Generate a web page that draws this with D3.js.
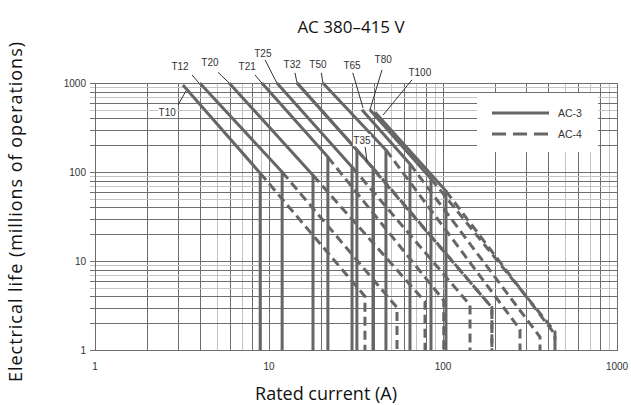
<!DOCTYPE html>
<meta charset="utf-8">
<style>
body { margin: 0; background: #fff; }
text { font-family: "Liberation Sans", Arial, sans-serif; fill: #333; }
.big { font-family: "Open Sans", "Noto Sans", sans-serif; fill: #111; font-size: 17px; }
.grid line { shape-rendering: crispEdges; }
</style>
<svg width="631" height="405"></svg>
<script src="https://d3js.org/d3.v7.min.js"></script>
<script>

var svg = d3.select("svg");

// contactor sizes, one curve each
var sizes = ["T10", "T12", "T20", "T21", "T25", "T32", "T35", "T50", "T65", "T80", "T100"];

// AC-3 (solid): start point [current A, life] and the knee where it drops straight down
var ac3Start = [[3.2, 950], [4.0, 1000], [5.9, 1000], [9.1, 1000], [11.1, 1000], [14.5, 1000],
                [14.5, 1000], [20.4, 1000], [34.2, 500], [38.0, 500], [40.7, 470]];
var ac3Knee = [[8.9, 97], [11.9, 100], [17.9, 92], [21.8, 147], [30.0, 114], [32.0, 177],
               [39.6, 111], [47.0, 177], [64.6, 123], [85.3, 84], [104, 61]];

// AC-4 (dashed): runs on from the knee to this point, then straight down
var ac4End = [[35.6, 4.0], [54.4, 3.0], [78.8, 3.5], [101, 3.6], [143, 3.2], [191, 3.0],
              [191, 3.0], [277, 1.7], [361, 1.4], [440, 1.6], [440, 1.5]];

// curve labels: text position and leader [from, to], all in data units
var labelPos = [[2.6, 471], [3.08, 1520], [4.58, 1680], [7.49, 1520], [9.22, 2160], [13.6, 1600],
                [34.2, 228], [19.1, 1600], [30.0, 1560], [45.3, 1820], [73.6, 1300]];
var leaderFrom = [[3.0, 568], [3.61, 1230], [5.09, 1320], [8.31, 1230], [9.49, 1820], [14.1, 1300],
                  [35.7, 191], [20.0, 1300], [30.3, 1300], [44.6, 1400], [66.3, 1085]];
var leaderTo = [[3.33, 811], [3.96, 1000], [5.9, 1000], [9.1, 1000], [11.1, 1000], [14.5, 1000],
                [36.6, 130], [20.4, 1000], [34.7, 525], [38.0, 497], [45.3, 437]];

var tickLabels = [1, 10, 100, 1000];

var x = d3.scaleLog().domain([1, 1000]).range([95, 617]);
var y = d3.scaleLog().domain([1, 1000]).range([350, 83]);

function light(v) {
  var k = Math.round(v / Math.pow(10, Math.floor(Math.log10(v) + 1e-9)));
  return k == 5 || k == 7 || k == 9;
}

// grid
var grid = svg.append("g").attr("class", "grid");
grid.selectAll(".v")
  .data(x.ticks())
  .enter().append("line")
    .attr("x1", function(d) { return Math.round(x(d)) + 0.5; })
    .attr("x2", function(d) { return Math.round(x(d)) + 0.5; })
    .attr("y1", y(1000))
    .attr("y2", y(1))
    .attr("stroke", function(d) { return light(d) ? "#c4c4c4" : "#6e6e6e"; })
    .attr("stroke-width", 1);

grid.selectAll(".h")
  .data(y.ticks())
  .enter().append("line")
    .attr("x1", x(1) - 5)
    .attr("x2", x(1000))
    .attr("y1", function(d) { return Math.round(y(d)) + 0.5; })
    .attr("y2", function(d) { return Math.round(y(d)) + 0.5; })
    .attr("stroke", function(d) { return light(d) ? "#c4c4c4" : "#6e6e6e"; })
    .attr("stroke-width", 1);

// legend area is blanked out of the grid
svg.append("rect")
  .attr("x", 477).attr("y", 93)
  .attr("width", 121).attr("height", 59)
  .attr("fill", "#fff");

// frame
svg.append("rect")
  .attr("x", x(1) + 0.5).attr("y", y(1000) + 0.5)
  .attr("width", x(1000) - x(1)).attr("height", y(1) - y(1000))
  .attr("fill", "none").attr("stroke", "#6e6e6e");

var line = d3.line()
  .x(function(d) { return x(d[0]); })
  .y(function(d) { return y(d[1]); });

var curves = sizes.map(function(name, i) {
  return {
    name: name,
    ac3: [ac3Start[i], ac3Knee[i], [ac3Knee[i][0], 1]],
    ac4: [ac3Knee[i], ac4End[i], [ac4End[i][0], 1]]
  };
});

svg.append("g").selectAll("path")
  .data(curves)
  .enter().append("path")
    .attr("d", function(d) { return line(d.ac4); })
    .attr("fill", "none")
    .attr("stroke", "#666")
    .attr("stroke-width", 3)
    .attr("stroke-dasharray", "9,5");

svg.append("g").selectAll("path")
  .data(curves)
  .enter().append("path")
    .attr("d", function(d) { return line(d.ac3); })
    .attr("fill", "none")
    .attr("stroke", "#666")
    .attr("stroke-width", 3)
    .attr("stroke-linejoin", "round");

// labels and leaders
var lab = svg.append("g");
lab.selectAll("line")
  .data(sizes)
  .enter().append("line")
    .attr("x1", function(d, i) { return x(leaderFrom[i][0]); })
    .attr("y1", function(d, i) { return y(leaderFrom[i][1]); })
    .attr("x2", function(d, i) { return x(leaderTo[i][0]); })
    .attr("y2", function(d, i) { return y(leaderTo[i][1]); })
    .attr("stroke", "#333")
    .attr("stroke-width", 1);

lab.selectAll("rect")
  .data(sizes)
  .enter().append("rect")
    .attr("x", function(d, i) { return x(labelPos[i][0]) - 9; })
    .attr("y", function(d, i) { return y(labelPos[i][1]) - 6; })
    .attr("width", 18).attr("height", 12)
    .attr("fill", "#fff")
    .attr("opacity", function(d) { return d == "T10" || d == "T35" ? 1 : 0; });

lab.selectAll("text")
  .data(sizes)
  .enter().append("text")
    .attr("x", function(d, i) { return x(labelPos[i][0]); })
    .attr("y", function(d, i) { return y(labelPos[i][1]); })
    .attr("dy", "0.35em")
    .attr("text-anchor", "middle")
    .attr("font-size", 10)
    .text(function(d) { return d; });

// tick labels
svg.append("g").selectAll("text")
  .data(tickLabels)
  .enter().append("text")
    .attr("x", 86)
    .attr("y", function(d) { return y(d); })
    .attr("dy", "0.35em")
    .attr("text-anchor", "end")
    .attr("font-size", 10)
    .text(function(d) { return d; });

svg.append("g").selectAll("text")
  .data(tickLabels)
  .enter().append("text")
    .attr("x", function(d) { return x(d); })
    .attr("y", 370)
    .attr("text-anchor", "middle")
    .attr("font-size", 10)
    .text(function(d) { return d; });

// legend
var leg = svg.append("g");
leg.append("line")
  .attr("x1", 492).attr("x2", 549).attr("y1", 113).attr("y2", 113)
  .attr("stroke", "#666").attr("stroke-width", 3);
leg.append("line")
  .attr("x1", 492).attr("x2", 549).attr("y1", 134).attr("y2", 134)
  .attr("stroke", "#666").attr("stroke-width", 3).attr("stroke-dasharray", "14,7");
leg.append("text").attr("x", 558).attr("y", 113).attr("dy", "0.35em")
  .attr("font-size", 10.5).text("AC-3");
leg.append("text").attr("x", 558).attr("y", 134).attr("dy", "0.35em")
  .attr("font-size", 10.5).text("AC-4");

// titles
svg.append("text").attr("class", "big")
  .attr("x", 351).attr("y", 33)
  .attr("text-anchor", "middle")
  .text("AC 380\u2013415 V");

svg.append("text").attr("class", "big")
  .attr("x", 326).attr("y", 400)
  .attr("font-size", 18)
  .style("font-size", "18px")
  .attr("text-anchor", "middle")
  .text("Rated current (A)");

svg.append("text").attr("class", "big")
  .attr("transform", "translate(22,212) rotate(-90)")
  .style("font-size", "18px")
  .attr("text-anchor", "middle")
  .attr("textLength", 340)
  .text("Electrical life (millions of operations)");

</script>
